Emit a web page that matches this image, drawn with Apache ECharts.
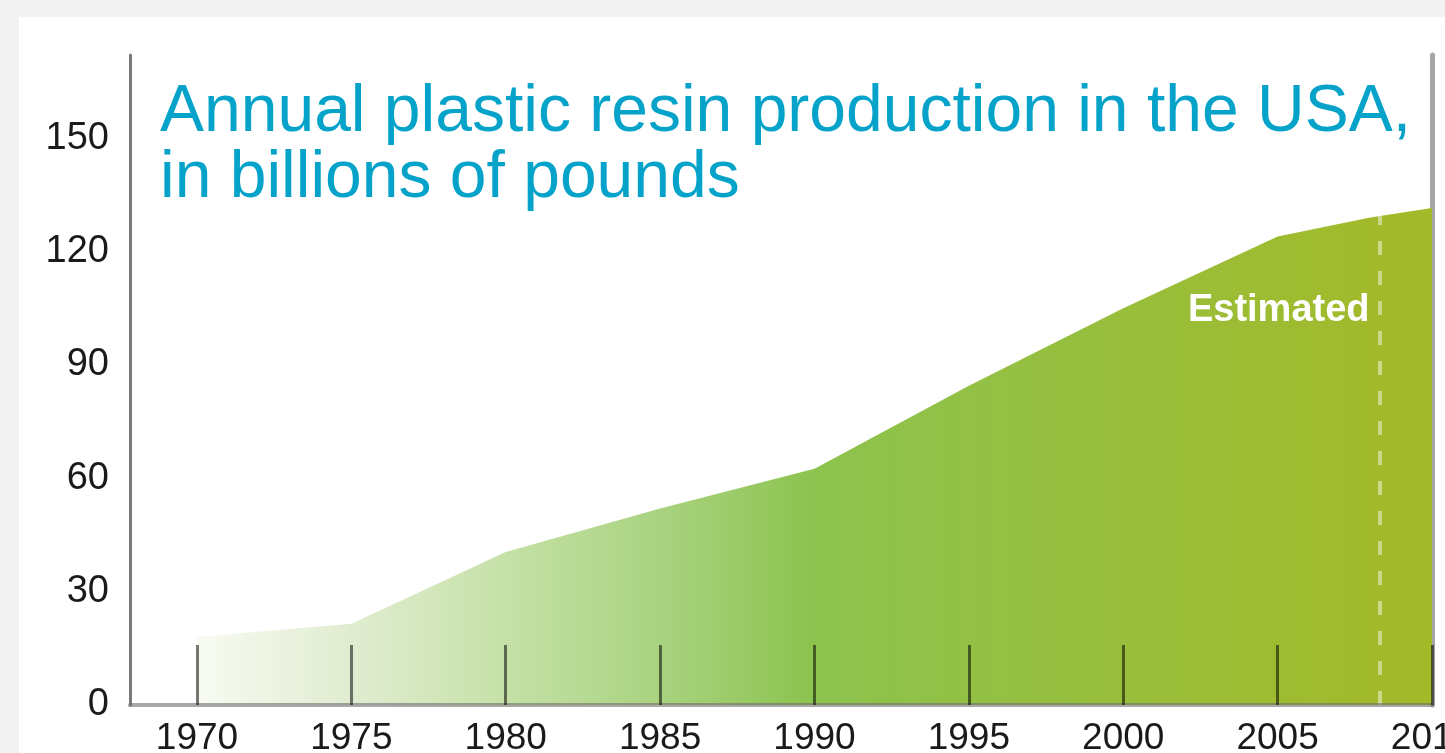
<!DOCTYPE html>
<html>
<head>
<meta charset="utf-8">
<script src="https://cdn.jsdelivr.net/npm/echarts@6/dist/echarts.min.js"></script>
<style>
  html, body { margin: 0; padding: 0; background: #f2f2f2; }
  #chart { width: 1445px; height: 753px; }
</style>
</head>
<body>
<div id="chart"></div>
<script>
// data (billions of pounds)
const years = [1970, 1975, 1980, 1985, 1990, 1995, 2000, 2005, 2008, 2010];
const production = [18, 21.5, 40.5, 52, 62.5, 84.5, 105, 124, 129, 131.5];
const yTicks = [0, 30, 60, 90, 120, 150];
const xTicks = [1970, 1975, 1980, 1985, 1990, 1995, 2000, 2005, 2010];
const estimatedFrom = 2008.3;
const estimatedTop = 129.5;
const estimatedLabelValue = 104.5;

const chart = echarts.init(document.getElementById('chart'));

const option = {
  animation: false,
  backgroundColor: '#f2f2f2',
  graphic: [
    {
      // white panel over the grey page
      type: 'rect',
      z: -10,
      shape: { x: 19, y: 17, width: 1500, height: 800 },
      style: { fill: '#ffffff' },
      silent: true
    }
  ],
  title: {
    text: 'Annual plastic resin production in the USA,\nin billions of pounds',
    left: 160,
    top: 80,
    padding: 0,
    textStyle: {
      color: '#05a3c9',
      fontFamily: 'Liberation Sans, Arial, sans-serif',
      fontSize: 66,
      fontWeight: 'normal',
      lineHeight: 66
    }
  },
  grid: {
    left: 130,
    right: 13,
    top: 55,
    bottom: 48,
    containLabel: false,
    outerBoundsMode: 'none'
  },
  xAxis: {
    type: 'value',
    min: 1967.83,
    max: 2010,
    z: 5,
    axisLine: {
      show: true,
      onZero: false,
      lineStyle: { color: 'rgba(110,110,110,0.6)', width: 4 }
    },
    axisTick: {
      show: true,
      inside: true,
      length: 60,
      customValues: xTicks,
      lineStyle: { color: 'rgba(0,0,0,0.53)', width: 3 }
    },
    axisLabel: {
      show: true,
      margin: 15,
      customValues: xTicks,
      formatter: v => String(v),
      color: '#1a1a1a',
      fontFamily: 'Liberation Sans, Arial, sans-serif',
      fontSize: 37,
      hideOverlap: false
    },
    splitLine: { show: false }
  },
  yAxis: [
    {
      type: 'value',
      min: 0,
      max: 172,
      position: 'left',
      axisLine: {
        show: true,
        lineStyle: { color: '#7a7a7a', width: 3 }
      },
      axisTick: { show: false },
      axisLabel: {
        margin: 21,
        customValues: yTicks,
        color: '#1a1a1a',
        fontFamily: 'Liberation Sans, Arial, sans-serif',
        fontSize: 38
      },
      splitLine: { show: false }
    },
    {
      // grey frame line on the right
      type: 'value',
      min: 0,
      max: 172,
      position: 'right',
      axisLine: {
        show: true,
        lineStyle: { color: '#a5a5a5', width: 5 }
      },
      axisTick: { show: false },
      axisLabel: { show: false },
      splitLine: { show: false }
    }
  ],
  series: [
    {
      type: 'line',
      z: 1,
      data: years.map((y, i) => [y, production[i]]),
      symbol: 'none',
      lineStyle: { width: 0 },
      areaStyle: {
        opacity: 1,
        color: new echarts.graphic.LinearGradient(0, 0, 1, 0, [
          { offset: 0, color: '#f8fbf2' },
          { offset: 0.126, color: '#e0ecd0' },
          { offset: 0.251, color: '#c5e1a7' },
          { offset: 0.377, color: '#a8d27f' },
          { offset: 0.5, color: '#8cc34e' },
          { offset: 0.627, color: '#93c045' },
          { offset: 0.753, color: '#98be3b' },
          { offset: 0.876, color: '#9ebc31' },
          { offset: 1, color: '#a3b928' }
        ])
      },
      markLine: {
        silent: true,
        symbol: ['none', 'none'],
        label: { show: false },
        lineStyle: {
          color: 'rgba(255,255,255,0.45)',
          type: [14, 16],
          width: 4
        },
        data: [
          [
            { coord: [estimatedFrom, 0] },
            { coord: [estimatedFrom, estimatedTop] }
          ]
        ]
      },
      markPoint: {
        silent: true,
        symbol: 'circle',
        symbolSize: 0,
        label: {
          show: true,
          position: 'left',
          distance: 10,
          formatter: 'Estimated',
          color: '#ffffff',
          fontFamily: 'Liberation Sans, Arial, sans-serif',
          fontWeight: 'bold',
          fontSize: 38
        },
        data: [
          { coord: [estimatedFrom, estimatedLabelValue] }
        ]
      }
    }
  ]
};

chart.setOption(option);
</script>
</body>
</html>
